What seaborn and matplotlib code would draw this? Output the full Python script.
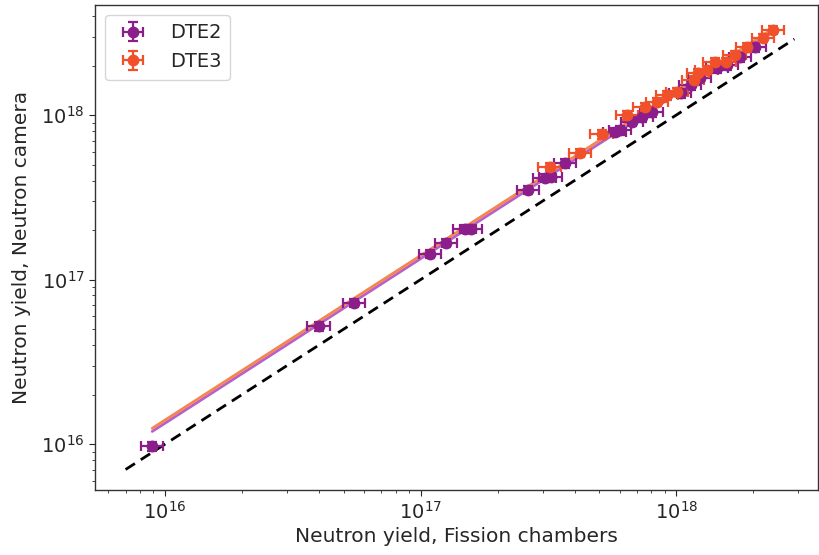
import numpy as np
import pandas as pd
import matplotlib
matplotlib.use("Agg")
import matplotlib.pyplot as plt
import seaborn as sns

# ---- data ----
dte2_fc = [8.9e15, 4.0e16, 5.5e16, 1.09e17, 1.26e17, 1.49e17, 1.58e17, 2.64e17, 3.07e17,
           3.24e17, 3.68e17, 5.77e17, 6.04e17, 6.73e17, 7.36e17, 8.05e17, 1.04e18, 1.14e18,
           1.24e18, 1.45e18, 1.58e18, 1.78e18, 2.04e18]
dte2_cam = [9.7e15, 5.2e16, 7.2e16, 1.43e17, 1.67e17, 2.03e17, 2.03e17, 3.5e17, 4.14e17,
            4.2e17, 5.1e17, 7.9e17, 8.1e17, 9.1e17, 9.7e17, 1.04e18, 1.36e18, 1.52e18,
            1.68e18, 1.93e18, 2.01e18, 2.25e18, 2.59e18]
dte3_fc = [3.21e17, 4.21e17, 5.13e17, 6.43e17, 7.56e17, 8.44e17, 9.23e17, 1.01e18, 1.17e18,
           1.22e18, 1.32e18, 1.42e18, 1.56e18, 1.70e18, 1.90e18, 2.19e18, 2.40e18]
dte3_cam = [4.83e17, 5.88e17, 7.66e17, 1.0e18, 1.12e18, 1.2e18, 1.32e18, 1.38e18, 1.63e18,
            1.80e18, 1.88e18, 2.10e18, 2.10e18, 2.32e18, 2.59e18, 2.94e18, 3.29e18]
x_rel_err = 0.10
y_rel_err = 0.06
fit_ratio = {"DTE2": 1.34, "DTE3": 1.40}
fit_range = [8.9e15, 2.4e18]
unity_range = [7.0e15, 2.9e18]

c_dte2 = "#8b1e8b"
c_dte3 = "#f0502a"
c_fit2 = "#b760c9"
c_fit3 = "#f5854f"

sns.set_style("ticks")
plt.rcParams["font.family"] = ["DejaVu Sans"]

fig = plt.figure(figsize=(8.2, 5.55), dpi=100)
ax = fig.add_axes([0.116, 0.117, 0.882, 0.874])
ax.set_xscale("log")
ax.set_yscale("log")

# fit lines
for name, col in (("DTE2", c_fit2), ("DTE3", c_fit3)):
    xs = np.geomspace(fit_range[0], fit_range[1], 50)
    df = pd.DataFrame({"x": xs, "y": fit_ratio[name] * xs})
    sns.lineplot(data=df, x="x", y="y", ax=ax, color=col, lw=2.0, zorder=2)

# y = x dashed line
du = pd.DataFrame({"x": unity_range, "y": unity_range})
sns.lineplot(data=du, x="x", y="y", ax=ax, color="black", lw=2.0,
             linestyle=(0, (4, 2.5)), zorder=3)

for fc, cam, col, lab in ((dte2_fc, dte2_cam, c_dte2, "DTE2"),
                          (dte3_fc, dte3_cam, c_dte3, "DTE3")):
    fc = np.array(fc); cam = np.array(cam)
    ax.errorbar(fc, cam, xerr=fc * x_rel_err, yerr=cam * y_rel_err, fmt="o",
                color=col, ms=7.5, elinewidth=1.6, capsize=3.5, capthick=1.6,
                label=lab, zorder=4)

ax.set_xlim(5.32e15, 3.6e18)
ax.set_ylim(5.25e15, 4.67e18)
ax.tick_params(axis="both", which="major", labelsize=14, length=4, direction="out")
ax.tick_params(axis="both", which="minor", length=2.5)
ax.set_xlabel("Neutron yield, Fission chambers", fontsize=14.5, labelpad=3)
ax.set_ylabel("Neutron yield, Neutron camera", fontsize=14.5, labelpad=7)
for s in ax.spines.values():
    s.set_color("#333333")
    s.set_linewidth(1.0)

ax.legend(loc="upper left", fontsize=14, frameon=True, handletextpad=0.9,
          borderpad=0.45)

fig.savefig("out.png", dpi=100)
